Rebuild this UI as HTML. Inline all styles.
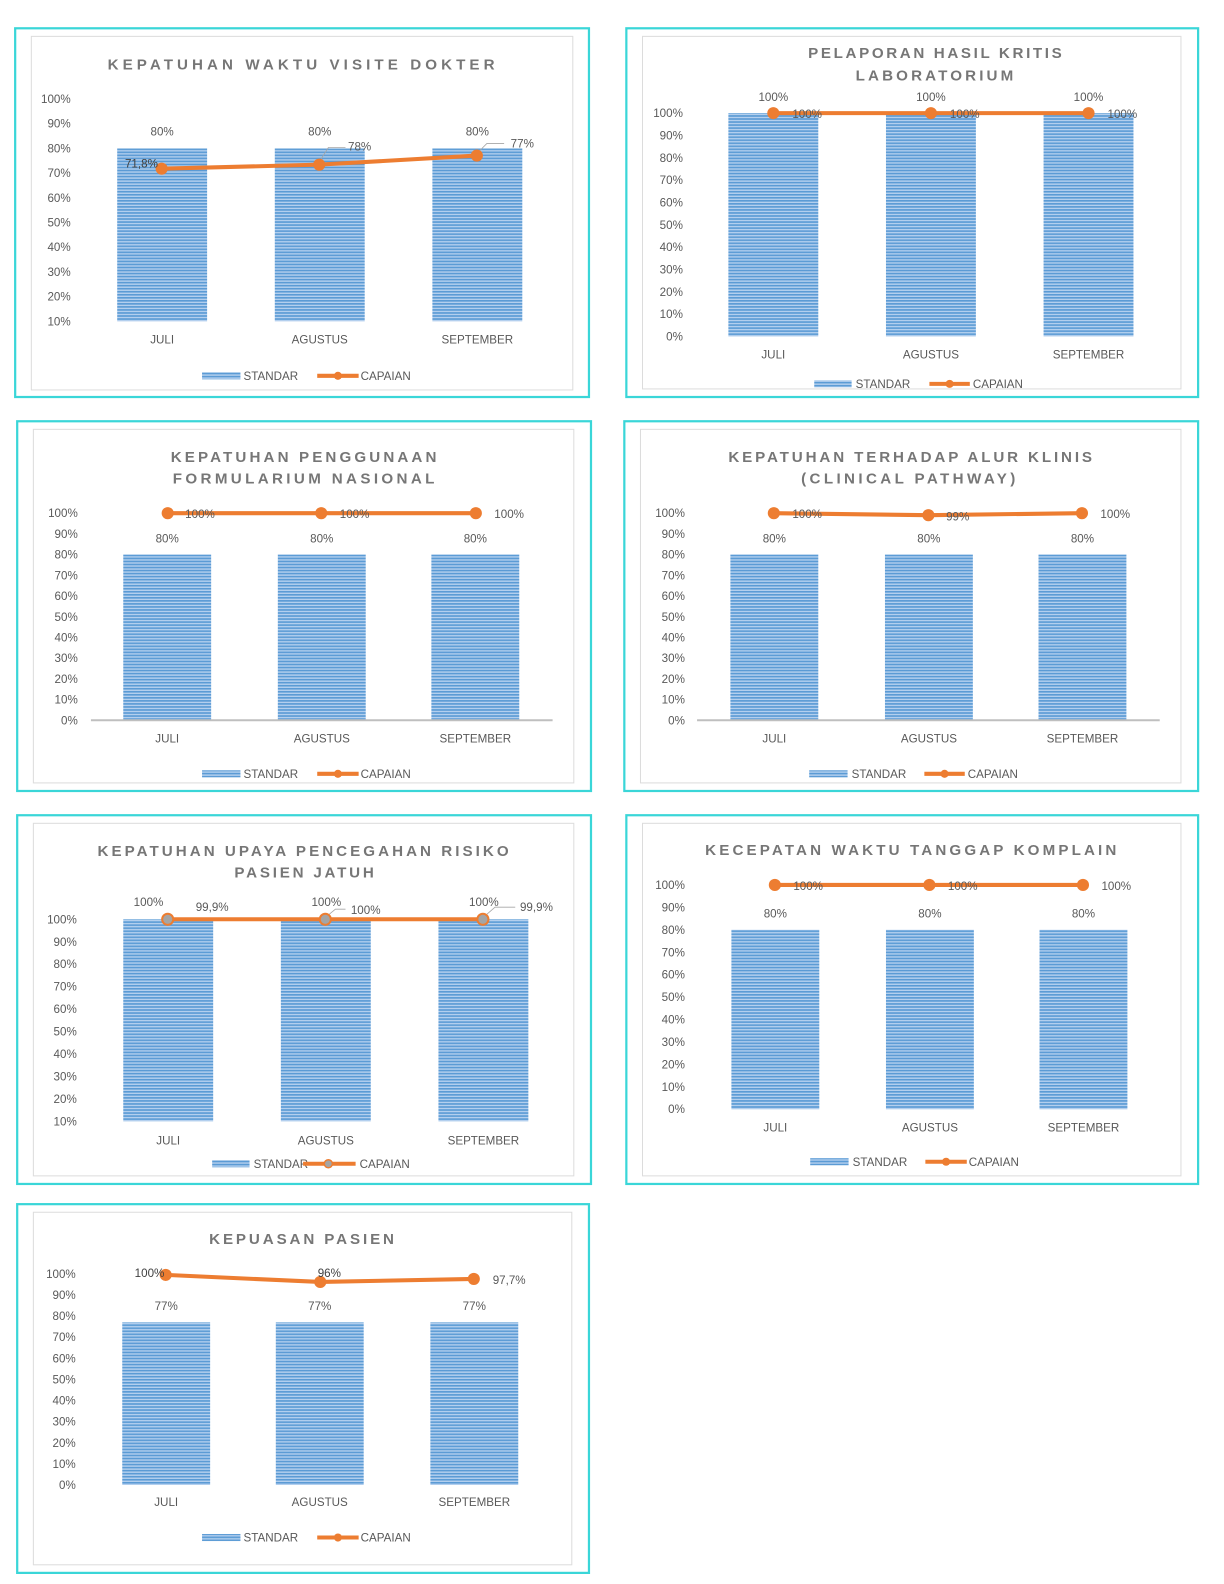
<!DOCTYPE html>
<html><head><meta charset="utf-8">
<style>
html,body{margin:0;padding:0;background:#fff;}
svg{display:block;}
.t{font-family:"Liberation Sans",sans-serif;font-size:11.5px;fill:#595959;}
.e{text-anchor:end;}
.m{text-anchor:middle;}
.ttl{font-family:"Liberation Sans",sans-serif;font-size:15px;font-weight:bold;fill:#767676;text-anchor:middle;}
.cy{fill:none;stroke:#3ad6d8;stroke-width:2.2;}
.fr{fill:none;stroke:#dcdcdc;stroke-width:1;}
.ln{fill:none;stroke:#ed7d31;stroke-width:4;stroke-linejoin:round;}
.ld{fill:none;stroke:#a6a6a6;stroke-width:0.8;}
</style></head>
<body>
<svg width="1224" height="1584" viewBox="0 0 1211.6 1568" xmlns="http://www.w3.org/2000/svg">
<defs>
<pattern id="p" patternUnits="userSpaceOnUse" width="4" height="3">
<rect x="0" y="0" width="4" height="3" fill="#b3cfee"/>
<rect x="0" y="0" width="4" height="1.6" fill="#5b9bd5"/>
</pattern>
</defs>
<rect width="1211.6" height="1568" fill="#fff"/>

<!-- ================= CHART 1 ================= -->
<rect class="cy" x="15" y="28" width="568" height="365"/>
<rect class="fr" x="31" y="36" width="536" height="350"/>
<text class="ttl" x="298" y="69" textLength="383" lengthAdjust="spacing">KEPATUHAN WAKTU VISITE DOKTER</text>
<g class="t e">
<text x="70" y="102">100%</text><text x="70" y="126.4">90%</text><text x="70" y="150.9">80%</text><text x="70" y="175.3">70%</text><text x="70" y="199.8">60%</text><text x="70" y="224.2">50%</text><text x="70" y="248.6">40%</text><text x="70" y="273.1">30%</text><text x="70" y="297.5">20%</text><text x="70" y="322">10%</text>
</g>
<rect x="116" y="147" width="89" height="171" fill="url(#p)"/>
<rect x="272" y="147" width="89" height="171" fill="url(#p)"/>
<rect x="428" y="147" width="89" height="171" fill="url(#p)"/>
<g class="t m">
<text x="160.5" y="134">80%</text><text x="316.5" y="134">80%</text><text x="472.5" y="134">80%</text>
<text x="160.5" y="340">JULI</text><text x="316.5" y="340">AGUSTUS</text><text x="472.5" y="340">SEPTEMBER</text>
</g>
<polyline class="ln" points="160,167 316,163 472,154"/>
<circle cx="160" cy="167" r="6" fill="#ed7d31"/><circle cx="316" cy="163" r="6" fill="#ed7d31"/><circle cx="472" cy="154" r="6" fill="#ed7d31"/>
<polyline class="ld" points="318,157 325,146 342,146"/>
<polyline class="ld" points="475,149 482,142 499,142"/>
<g class="t m">
<text x="140" y="166" style="fill:#404040">71,8%</text><text x="356" y="149">78%</text><text x="517" y="146">77%</text>
</g>
<rect x="200" y="368.5" width="38" height="7" fill="url(#p)"/>
<text class="t" x="241" y="376">STANDAR</text>
<line x1="314" y1="372" x2="355" y2="372" stroke="#ed7d31" stroke-width="4"/><circle cx="334.5" cy="372" r="4" fill="#ed7d31"/>
<text class="t" x="357" y="376">CAPAIAN</text>

<!-- ================= CHART 2 ================= -->
<rect class="cy" x="620" y="28" width="566" height="365"/>
<rect class="fr" x="636" y="36" width="533" height="349"/>
<text class="ttl" x="925.5" y="57.5" textLength="251" lengthAdjust="spacing">PELAPORAN HASIL KRITIS</text>
<text class="ttl" x="925" y="79.5" textLength="156" lengthAdjust="spacing">LABORATORIUM</text>
<g class="t e">
<text x="676" y="116">100%</text><text x="676" y="138.1">90%</text><text x="676" y="160.2">80%</text><text x="676" y="182.3">70%</text><text x="676" y="204.4">60%</text><text x="676" y="226.5">50%</text><text x="676" y="248.6">40%</text><text x="676" y="270.7">30%</text><text x="676" y="292.8">20%</text><text x="676" y="314.9">10%</text><text x="676" y="337">0%</text>
</g>
<rect x="721" y="112" width="89" height="221" fill="url(#p)"/>
<rect x="877" y="112" width="89" height="221" fill="url(#p)"/>
<rect x="1033" y="112" width="89" height="221" fill="url(#p)"/>
<line class="ln" x1="765.5" y1="112" x2="1077.5" y2="112"/>
<circle cx="765.5" cy="112" r="6" fill="#ed7d31"/><circle cx="921.5" cy="112" r="6" fill="#ed7d31"/><circle cx="1077.5" cy="112" r="6" fill="#ed7d31"/>
<g class="t m">
<text x="765.5" y="100">100%</text><text x="921.5" y="100">100%</text><text x="1077.5" y="100">100%</text>
<text x="799" y="117">100%</text><text x="955" y="117">100%</text><text x="1111" y="117">100%</text>
<text x="765.5" y="355">JULI</text><text x="921.5" y="355">AGUSTUS</text><text x="1077.5" y="355">SEPTEMBER</text>
</g>
<rect x="806" y="376.5" width="37" height="7" fill="url(#p)"/>
<text class="t" x="847" y="384">STANDAR</text>
<line x1="920" y1="380" x2="960" y2="380" stroke="#ed7d31" stroke-width="4"/><circle cx="940" cy="380" r="4" fill="#ed7d31"/>
<text class="t" x="963" y="384">CAPAIAN</text>

<!-- ================= CHART 3 ================= -->
<rect class="cy" x="17" y="417" width="568" height="366"/>
<rect class="fr" x="33" y="425" width="535" height="350"/>
<text class="ttl" x="300.5" y="457.5" textLength="263" lengthAdjust="spacing">KEPATUHAN PENGGUNAAN</text>
<text class="ttl" x="300.5" y="478.5" textLength="259" lengthAdjust="spacing">FORMULARIUM NASIONAL</text>
<g class="t e">
<text x="77" y="512">100%</text><text x="77" y="532.5">90%</text><text x="77" y="553">80%</text><text x="77" y="573.5">70%</text><text x="77" y="594">60%</text><text x="77" y="614.5">50%</text><text x="77" y="635">40%</text><text x="77" y="655.5">30%</text><text x="77" y="676">20%</text><text x="77" y="696.5">10%</text><text x="77" y="717">0%</text>
</g>
<rect x="122" y="549" width="87" height="164" fill="url(#p)"/>
<rect x="275" y="549" width="87" height="164" fill="url(#p)"/>
<rect x="427" y="549" width="87" height="164" fill="url(#p)"/>
<line x1="90" y1="713" x2="547" y2="713" stroke="#bfbfbf" stroke-width="2"/>
<line class="ln" x1="166" y1="508" x2="471" y2="508"/>
<circle cx="166" cy="508" r="6" fill="#ed7d31"/><circle cx="318" cy="508" r="6" fill="#ed7d31"/><circle cx="471" cy="508" r="6" fill="#ed7d31"/>
<g class="t m">
<text x="165.5" y="537">80%</text><text x="318.5" y="537">80%</text><text x="470.5" y="537">80%</text>
<text x="198" y="513">100%</text><text x="351" y="513">100%</text><text x="504" y="513">100%</text>
<text x="165.5" y="735">JULI</text><text x="318.5" y="735">AGUSTUS</text><text x="470.5" y="735">SEPTEMBER</text>
</g>
<rect x="200" y="762.5" width="38" height="7" fill="url(#p)"/>
<text class="t" x="241" y="770">STANDAR</text>
<line x1="314" y1="766" x2="355" y2="766" stroke="#ed7d31" stroke-width="4"/><circle cx="334.5" cy="766" r="4" fill="#ed7d31"/>
<text class="t" x="357" y="770">CAPAIAN</text>

<!-- ================= CHART 4 ================= -->
<rect class="cy" x="618" y="417" width="568" height="366"/>
<rect class="fr" x="634" y="425" width="535" height="350"/>
<text class="ttl" x="901" y="457.5" textLength="360" lengthAdjust="spacing">KEPATUHAN TERHADAP ALUR KLINIS</text>
<text class="ttl" x="899" y="478.5" textLength="212" lengthAdjust="spacing">(CLINICAL PATHWAY)</text>
<g class="t e">
<text x="678" y="512">100%</text><text x="678" y="532.5">90%</text><text x="678" y="553">80%</text><text x="678" y="573.5">70%</text><text x="678" y="594">60%</text><text x="678" y="614.5">50%</text><text x="678" y="635">40%</text><text x="678" y="655.5">30%</text><text x="678" y="676">20%</text><text x="678" y="696.5">10%</text><text x="678" y="717">0%</text>
</g>
<rect x="723" y="549" width="87" height="164" fill="url(#p)"/>
<rect x="876" y="549" width="87" height="164" fill="url(#p)"/>
<rect x="1028" y="549" width="87" height="164" fill="url(#p)"/>
<line x1="690" y1="713" x2="1148" y2="713" stroke="#bfbfbf" stroke-width="2"/>
<polyline class="ln" points="766,508 919,510 1071,508"/>
<circle cx="766" cy="508" r="6" fill="#ed7d31"/><circle cx="919" cy="510" r="6" fill="#ed7d31"/><circle cx="1071" cy="508" r="6" fill="#ed7d31"/>
<g class="t m">
<text x="766.5" y="537">80%</text><text x="919.5" y="537">80%</text><text x="1071.5" y="537">80%</text>
<text x="799" y="513">100%</text><text x="948" y="515">99%</text><text x="1104" y="513">100%</text>
<text x="766.5" y="735">JULI</text><text x="919.5" y="735">AGUSTUS</text><text x="1071.5" y="735">SEPTEMBER</text>
</g>
<rect x="801" y="762.5" width="38" height="7" fill="url(#p)"/>
<text class="t" x="843" y="770">STANDAR</text>
<line x1="915" y1="766" x2="955" y2="766" stroke="#ed7d31" stroke-width="4"/><circle cx="935" cy="766" r="4" fill="#ed7d31"/>
<text class="t" x="958" y="770">CAPAIAN</text>

<!-- ================= CHART 5 ================= -->
<rect class="cy" x="17" y="807" width="568" height="365"/>
<rect class="fr" x="33" y="815" width="535" height="349"/>
<text class="ttl" x="300" y="847.5" textLength="407" lengthAdjust="spacing">KEPATUHAN UPAYA PENCEGAHAN RISIKO</text>
<text class="ttl" x="301" y="868.5" textLength="138" lengthAdjust="spacing">PASIEN JATUH</text>
<g class="t e">
<text x="76" y="914">100%</text><text x="76" y="936.2">90%</text><text x="76" y="958.4">80%</text><text x="76" y="980.7">70%</text><text x="76" y="1002.9">60%</text><text x="76" y="1025.1">50%</text><text x="76" y="1047.3">40%</text><text x="76" y="1069.6">30%</text><text x="76" y="1091.8">20%</text><text x="76" y="1114">10%</text>
</g>
<rect x="122" y="910" width="89" height="200" fill="url(#p)"/>
<rect x="278" y="910" width="89" height="200" fill="url(#p)"/>
<rect x="434" y="910" width="89" height="200" fill="url(#p)"/>
<line class="ln" x1="166" y1="910" x2="478" y2="910"/>
<circle cx="166" cy="910" r="5.5" fill="#a5a5a5" stroke="#ed7d31" stroke-width="2"/>
<circle cx="322" cy="910" r="5.5" fill="#a5a5a5" stroke="#ed7d31" stroke-width="2"/>
<circle cx="478" cy="910" r="5.5" fill="#a5a5a5" stroke="#ed7d31" stroke-width="2"/>
<polyline class="ld" points="326,905 332,900 342,900"/>
<polyline class="ld" points="482,905 490,898 510,898"/>
<g class="t m">
<text x="147" y="897">100%</text><text x="323" y="897">100%</text><text x="479" y="897">100%</text>
<text x="210" y="902">99,9%</text><text x="362" y="905">100%</text><text x="531" y="902">99,9%</text>
<text x="166.5" y="1133">JULI</text><text x="322.5" y="1133">AGUSTUS</text><text x="478.5" y="1133">SEPTEMBER</text>
</g>
<rect x="210" y="1148.5" width="37" height="7" fill="url(#p)"/>
<text class="t" x="251" y="1156">STANDAR</text>
<line x1="300" y1="1152" x2="352" y2="1152" stroke="#ed7d31" stroke-width="4"/><circle cx="325" cy="1152" r="4" fill="#a5a5a5" stroke="#ed7d31" stroke-width="1.5"/>
<text class="t" x="356" y="1156">CAPAIAN</text>

<!-- ================= CHART 6 ================= -->
<rect class="cy" x="620" y="807" width="566" height="365"/>
<rect class="fr" x="636" y="815" width="533" height="349"/>
<text class="ttl" x="901.5" y="846.5" textLength="407" lengthAdjust="spacing">KECEPATAN WAKTU TANGGAP KOMPLAIN</text>
<g class="t e">
<text x="678" y="880">100%</text><text x="678" y="902.2">90%</text><text x="678" y="924.4">80%</text><text x="678" y="946.6">70%</text><text x="678" y="968.8">60%</text><text x="678" y="991">50%</text><text x="678" y="1013.2">40%</text><text x="678" y="1035.4">30%</text><text x="678" y="1057.6">20%</text><text x="678" y="1079.8">10%</text><text x="678" y="1102">0%</text>
</g>
<rect x="724" y="920.4" width="87" height="177.6" fill="url(#p)"/>
<rect x="877" y="920.4" width="87" height="177.6" fill="url(#p)"/>
<rect x="1029" y="920.4" width="87" height="177.6" fill="url(#p)"/>
<line class="ln" x1="767" y1="876" x2="1072" y2="876"/>
<circle cx="767" cy="876" r="6" fill="#ed7d31"/><circle cx="920" cy="876" r="6" fill="#ed7d31"/><circle cx="1072" cy="876" r="6" fill="#ed7d31"/>
<g class="t m">
<text x="767.5" y="908">80%</text><text x="920.5" y="908">80%</text><text x="1072.5" y="908">80%</text>
<text x="800" y="881">100%</text><text x="953" y="881">100%</text><text x="1105" y="881">100%</text>
<text x="767.5" y="1120">JULI</text><text x="920.5" y="1120">AGUSTUS</text><text x="1072.5" y="1120">SEPTEMBER</text>
</g>
<rect x="802" y="1146.5" width="38" height="7" fill="url(#p)"/>
<text class="t" x="844" y="1154">STANDAR</text>
<line x1="916" y1="1150" x2="957" y2="1150" stroke="#ed7d31" stroke-width="4"/><circle cx="936.5" cy="1150" r="4" fill="#ed7d31"/>
<text class="t" x="959" y="1154">CAPAIAN</text>

<!-- ================= CHART 7 ================= -->
<rect class="cy" x="17" y="1192" width="566" height="365"/>
<rect class="fr" x="33" y="1200" width="533" height="349"/>
<text class="ttl" x="298.5" y="1231.5" textLength="183" lengthAdjust="spacing">KEPUASAN PASIEN</text>
<g class="t e">
<text x="75" y="1265">100%</text><text x="75" y="1285.9">90%</text><text x="75" y="1306.8">80%</text><text x="75" y="1327.7">70%</text><text x="75" y="1348.6">60%</text><text x="75" y="1369.5">50%</text><text x="75" y="1390.4">40%</text><text x="75" y="1411.3">30%</text><text x="75" y="1432.2">20%</text><text x="75" y="1453.1">10%</text><text x="75" y="1474">0%</text>
</g>
<rect x="121" y="1309" width="87" height="161" fill="url(#p)"/>
<rect x="273" y="1309" width="87" height="161" fill="url(#p)"/>
<rect x="426" y="1309" width="87" height="161" fill="url(#p)"/>
<polyline class="ln" points="164,1262 317,1269 469,1266"/>
<circle cx="164" cy="1262" r="6" fill="#ed7d31"/><circle cx="317" cy="1269" r="6" fill="#ed7d31"/><circle cx="469" cy="1266" r="6" fill="#ed7d31"/>
<g class="t m">
<text x="164.5" y="1297">77%</text><text x="316.5" y="1297">77%</text><text x="469.5" y="1297">77%</text>
<text x="148" y="1264" style="fill:#404040">100%</text><text x="326" y="1264" style="fill:#404040">96%</text><text x="504" y="1271">97,7%</text>
<text x="164.5" y="1491">JULI</text><text x="316.5" y="1491">AGUSTUS</text><text x="469.5" y="1491">SEPTEMBER</text>
</g>
<rect x="200" y="1518.5" width="38" height="7" fill="url(#p)"/>
<text class="t" x="241" y="1526">STANDAR</text>
<line x1="314" y1="1522" x2="355" y2="1522" stroke="#ed7d31" stroke-width="4"/><circle cx="334.5" cy="1522" r="4" fill="#ed7d31"/>
<text class="t" x="357" y="1526">CAPAIAN</text>
</svg>
</body></html>
